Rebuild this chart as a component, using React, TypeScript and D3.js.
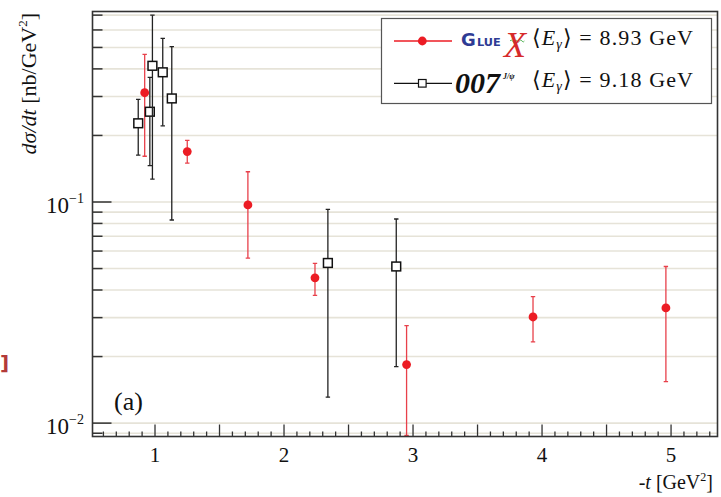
import React from "react";
import * as d3 from "d3";

// GlueX data
const gluexT = [0.92, 1.25, 1.72, 2.24, 2.95, 3.93, 4.96];
const gluexY = [0.312, 0.169, 0.097, 0.0454, 0.0184, 0.0302, 0.0332];
const gluexHi = [0.465, 0.19, 0.137, 0.0528, 0.0276, 0.0373, 0.0511];
const gluexLo = [0.161, 0.15, 0.0558, 0.0378, 0.0088, 0.0233, 0.0154];

// 007 J/psi data
const j007T = [0.87, 0.96, 0.98, 1.06, 1.13, 2.34, 2.87];
const j007Y = [0.227, 0.256, 0.413, 0.386, 0.294, 0.053, 0.0511];
const j007Hi = [0.291, 0.366, 0.7, 0.549, 0.504, 0.0927, 0.0838];
const j007Lo = [0.163, 0.146, 0.127, 0.221, 0.0829, 0.0131, 0.018];

const xTickLabels = [1, 2, 3, 4, 5];
const yMajorTicks = [0.01, 0.1];
const legendGluex = "8.93";
const legend007 = "9.18";

const W = 721;
const H = 497;
const L = 92.5, R = 717.5, T = 11.5, B = 436.5;

export default function App() {
  const x = d3.scaleLinear().domain([0.5155, 5.36]).range([L, R]);
  const y = d3.scaleLog().domain([0.0087, 0.727]).range([B, T]);

  const yTicks: { v: number; major: boolean }[] = [];
  for (let k = -3; k <= 0; k++) {
    for (let m = 1; m <= 9; m++) {
      const v = m * Math.pow(10, k);
      if (v >= 0.0087 && v <= 0.727) yTicks.push({ v, major: m === 1 });
    }
  }
  const xTicks: { v: number; major: boolean }[] = [];
  for (let i = 6; i <= 53; i++) {
    const v = i / 10;
    xTicks.push({ v, major: i % 5 === 0 });
  }

  const red = "#ec1c24";
  const redBar = "#e8404a";
  const grid = "#e6e3d8";
  const serif = "'Liberation Serif', 'DejaVu Serif', serif";
  const sans = "'DejaVu Sans', sans-serif";

  const gluex = gluexT.map((t, i) => ({ t, v: gluexY[i], hi: gluexHi[i], lo: gluexLo[i] }));
  const j007 = j007T.map((t, i) => ({ t, v: j007Y[i], hi: j007Hi[i], lo: j007Lo[i] }));

  const cap = 2.2;
  const sq = 8.8;

  return (
    <svg width={W} height={H} style={{ position: "absolute", left: 0, top: 0, background: "#fff" }} fontFamily={serif}>
      <defs>
        <clipPath id="plotclip">
          <rect x={L} y={T} width={R - L} height={B - T} />
        </clipPath>
      </defs>
      <rect x={0} y={0} width={W} height={H} fill="#fff" />
      {/* grid */}
      {yTicks.map((d, i) => (
        <line key={"g" + i} x1={L} x2={R} y1={y(d.v)} y2={y(d.v)} stroke={grid} strokeWidth={1.6} />
      ))}
      {/* y ticks */}
      {yTicks.map((d, i) => (
        <line key={"yt" + i} x1={L} x2={L + (d.major ? 19 : 10)} y1={y(d.v)} y2={y(d.v)} stroke="#333" strokeWidth={1.5} />
      ))}
      {/* x ticks */}
      {xTicks.map((d, i) => (
        <line key={"xt" + i} x1={x(d.v)} x2={x(d.v)} y1={B} y2={B - (d.major ? 12 : 5)} stroke="#333" strokeWidth={1.3} />
      ))}
      {/* data */}
      <g clipPath="url(#plotclip)">
        {gluex.map((d, i) => (
          <g key={"r" + i} stroke={redBar} strokeWidth={1.3}>
            <line x1={x(d.t)} x2={x(d.t)} y1={y(d.hi)} y2={y(d.lo)} />
            <line x1={x(d.t) - cap} x2={x(d.t) + cap} y1={y(d.hi)} y2={y(d.hi)} />
            <line x1={x(d.t) - cap} x2={x(d.t) + cap} y1={y(d.lo)} y2={y(d.lo)} />
            <circle cx={x(d.t)} cy={y(d.v)} r={4.4} fill={red} stroke="none" />
          </g>
        ))}
        {j007.map((d, i) => (
          <g key={"b" + i} stroke="#222" strokeWidth={1.3}>
            <line x1={x(d.t)} x2={x(d.t)} y1={y(d.hi)} y2={y(d.v) - sq / 2} />
            <line x1={x(d.t)} x2={x(d.t)} y1={y(d.v) + sq / 2} y2={y(d.lo)} />
            <line x1={x(d.t) - cap} x2={x(d.t) + cap} y1={y(d.hi)} y2={y(d.hi)} />
            <line x1={x(d.t) - cap} x2={x(d.t) + cap} y1={y(d.lo)} y2={y(d.lo)} />
            <rect x={x(d.t) - sq / 2} y={y(d.v) - sq / 2} width={sq} height={sq} fill="#fff" stroke="#111" strokeWidth={1.5} />
          </g>
        ))}
      </g>
      {/* frame */}
      <rect x={L} y={T} width={R - L} height={B - T} fill="none" stroke="#333" strokeWidth={1.6} />
      {/* y tick labels */}
      {yMajorTicks.map((v, i) => (
        <text key={"yl" + i} x={84} y={y(v) + 11} textAnchor="end" fontSize={23} fill="#111">
          10<tspan dy={-10} fontSize={14}>{"\u2212" + String(-Math.round(Math.log10(v)))}</tspan>
        </text>
      ))}
      {/* x tick labels */}
      {xTickLabels.map((v, i) => (
        <text key={"xl" + i} x={x(v)} y={462} textAnchor="middle" fontSize={21} fill="#111">
          {v}
        </text>
      ))}
      {/* axis titles */}
      <text x={713} y={489} textAnchor="end" fontSize={20} fill="#111">
        -<tspan fontStyle="italic">t</tspan> [GeV<tspan dy={-8} fontSize={12}>2</tspan><tspan dy={8}>]</tspan>
      </text>
      <text transform="translate(36,13) rotate(-90)" textAnchor="end" fontSize={22} fill="#111">
        <tspan fontStyle="italic">dσ/dt</tspan> [nb/GeV<tspan dy={-9} fontSize={13}>2</tspan><tspan dy={9}>]</tspan>
      </text>
      {/* (a) label */}
      <text x={114} y={410} fontSize={26} fill="#111">(a)</text>
      {/* stray bracket */}
      <text x={0} y={370} fontSize={20} fontWeight="bold" fill="#b33a3a" fontFamily={sans}>]</text>
      {/* legend */}
      <rect x={381.5} y={18.5} width={330} height={85} fill="#fff" stroke="#555" strokeWidth={1.2} />
      <line x1={394} x2={452} y1={41} y2={41} stroke={red} strokeWidth={1.3} />
      <circle cx={422.3} cy={41} r={4.4} fill={red} />
      <line x1={394} x2={452} y1={83.3} y2={83.3} stroke="#111" strokeWidth={1.3} />
      <rect x={422.3 - 3.8} y={83.3 - 3.8} width={7.6} height={7.6} fill="#fff" stroke="#111" strokeWidth={1.2} />
      {/* GlueX logo */}
      <text x={461} y={46} fontSize={18} fontWeight="bold" fill="#2e3b94" fontFamily={sans}>G</text>
      <text x={477} y={46} fontSize={11.3} fontWeight="bold" fill="#2e3b94" fontFamily={sans}>LUE</text>
      <path d="M510,41 q1.2,-2 2.4,0 t2.4,0 t2.4,0 t2.4,0 t2.4,0 t2.4,0" fill="none" stroke="#4caf50" strokeWidth={0.9} />
      <text x={504} y={57} fontSize={36} fontStyle="italic" fill="#d62a2a" fontFamily={serif}>X</text>
      {/* 007 logo */}
      <text x={455} y={93} fontSize={30} fontWeight="bold" fontStyle="italic" fill="#111">007</text>
      <text x={503} y={79} fontSize={8} fontWeight="bold" fontStyle="italic" fill="#111">J/ψ</text>
      {/* legend texts */}
      {[{ e: legendGluex, yy: 45 }, { e: legend007, yy: 87.3 }].map((r, i) => (
        <text key={"lt" + i} x={532} y={r.yy} fontSize={22} fill="#111" textLength={161} lengthAdjust="spacing">
          ⟨<tspan fontStyle="italic">E</tspan><tspan dy={4} fontSize={14} fontStyle="italic">γ</tspan><tspan dy={-4}>⟩ = {r.e} GeV</tspan>
        </text>
      ))}
    </svg>
  );
}
